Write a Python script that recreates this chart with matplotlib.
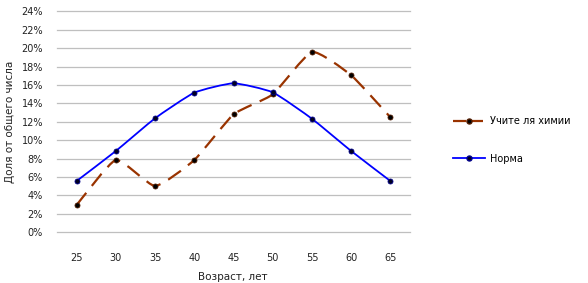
import numpy as np
import matplotlib
matplotlib.use("Agg")
from matplotlib import pyplot as plt
from matplotlib.path import Path
from matplotlib.patches import PathPatch
from matplotlib.lines import Line2D

# data
ages = ["25", "30", "35", "40", "45", "50", "55", "60", "65"]
teachers = [2.96, 7.85, 5.03, 7.85, 12.8, 14.98, 19.58, 17.05, 12.49]
norm = [5.57, 8.83, 12.38, 15.16, 16.18, 15.2, 12.33, 8.83, 5.57]
yticks = list(range(0, 25, 2))

BROWN = "#993300"
BLUE = "#0000FF"


def smooth_path(xs, ys, k=12.):
    # gentle bezier path through the points (excel-ish smoothed line)
    pts = np.column_stack([xs, ys]).astype(float)
    n = len(pts)
    verts = [pts[0]]
    codes = [Path.MOVETO]
    for i in range(n - 1):
        p0 = pts[max(i - 1, 0)]
        p1 = pts[i]
        p2 = pts[i + 1]
        p3 = pts[min(i + 2, n - 1)]
        c1 = p1 + (p2 - p0) / k
        c2 = p2 - (p3 - p1) / k
        verts += [c1, c2, p2]
        codes += [Path.CURVE4] * 3
    return Path(verts, codes)


def main():
    fig = plt.figure(figsize=(5.88, 2.83), dpi=100)
    ax = fig.add_axes([57 / 588, 50.7 / 283, 353 / 588, 221 / 283])

    x = np.arange(len(ages))

    ax.add_patch(PathPatch(smooth_path(x, teachers), fill=False, edgecolor=BROWN,
                           lw=1.6, linestyle=(0, (7, 4)), zorder=3))
    ax.add_patch(PathPatch(smooth_path(x, norm), fill=False, edgecolor=BLUE,
                           lw=1.3, zorder=3))
    ax.plot(x, teachers, linestyle="", marker="o", markersize=3.6,
            markerfacecolor="black", markeredgecolor="#4d1a00", markeredgewidth=0.6, zorder=4)
    ax.plot(x, norm, linestyle="", marker="o", markersize=3.6,
            markerfacecolor="#000022", markeredgecolor="#00008b", markeredgewidth=0.6, zorder=4)

    ax.set_xlim(-0.5, len(ages) - 0.5)
    ax.set_ylim(0, 24)
    ax.set_xticks(x)
    ax.set_xticklabels(ages)
    ax.set_yticks(yticks)
    ax.set_yticklabels(["{}%".format(v) for v in yticks])
    ax.tick_params(length=0, labelsize=7, colors="#222222")
    ax.tick_params(axis="x", pad=15)
    ax.tick_params(axis="y", pad=10)

    ax.grid(axis="y", color="#bfbfbf", lw=0.9)
    ax.set_axisbelow(True)
    for gl in ax.yaxis.get_gridlines():
        gl.set_clip_on(False)
    for s in ax.spines.values():
        s.set_visible(False)

    fig.text(233 / 588, 1 - 277 / 283, "Возраст, лет", ha="center", va="center",
             fontsize=7.5, color="#222222")
    fig.text(10 / 588, 1 - 122 / 283, "Доля от общего числа", ha="center", va="center",
             rotation=90, fontsize=7.5, color="#222222")

    handles = [
        Line2D([], [], color=BROWN, lw=1.6, linestyle=(0, (6, 1.5)), marker="o",
               markersize=3.6, markerfacecolor="black", markeredgecolor="#4d1a00"),
        Line2D([], [], color=BLUE, lw=1.3, marker="o", markersize=3.6,
               markerfacecolor="#000022", markeredgecolor="#00008b"),
    ]
    fig.legend(handles, ["Учите ля химии", "Норма"], loc="center left",
               bbox_to_anchor=(444 / 588, 1 - 140 / 283), frameon=False,
               fontsize=7, handlelength=3.3, handletextpad=0.5, labelspacing=2.8)

    fig.savefig("out.png", dpi=100)


if __name__ == "__main__":
    main()
